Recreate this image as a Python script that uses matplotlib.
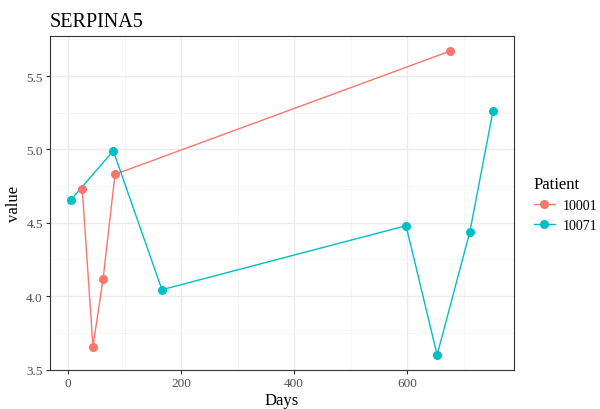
import matplotlib
matplotlib.use("Agg")
import matplotlib.pyplot as plt
from matplotlib.lines import Line2D

plt.rcParams['font.family'] = ['Liberation Serif', 'DejaVu Serif']

# 데이터
days_10001 = [25, 44, 62, 83, 676]
value_10001 = [4.73, 3.656, 4.12, 4.83, 5.67]
days_10071 = [5, 80, 166, 598, 653, 711, 752]
value_10071 = [4.657, 4.99, 4.044, 4.48, 3.60, 4.44, 5.265]
patients = ["10001", "10071"]
colors = ["#F8766D", "#00BFC4"]

fig = plt.figure(figsize=(6, 4.1), dpi=100)
ax = fig.add_axes([0.083, 0.095, 0.774, 0.815])

for x, y, c in [(days_10001, value_10001, colors[0]), (days_10071, value_10071, colors[1])]:
    ax.plot(x, y, '-', color=c, lw=1.0, zorder=3)
    ax.plot(x, y, 'o', color=c, ms=6.5, mec='none', zorder=4)

ax.set_xlim(-32.4, 789.4)
ax.set_ylim(3.4965, 5.7735)
ax.set_xticks([0, 200, 400, 600])
ax.set_yticks([3.5, 4.0, 4.5, 5.0, 5.5])
ax.set_yticklabels(["3.5", "4.0", "4.5", "5.0", "5.5"])
ax.set_xticks([100, 300, 500, 700], minor=True)
ax.set_yticks([3.75, 4.25, 4.75, 5.25, 5.75], minor=True)
ax.grid(which='major', color='#EBEBEB', lw=1.0, zorder=0)
ax.grid(which='minor', color='#F4F4F4', lw=0.6, zorder=0)
ax.tick_params(which='minor', length=0)
ax.tick_params(which='major', length=3, color='#333333', labelsize=9.5, labelcolor='#4D4D4D', pad=2)
for s in ax.spines.values():
    s.set_color('#333333')
    s.set_linewidth(0.8)
ax.set_axisbelow(True)

ax.set_xlabel("Days", fontsize=12, labelpad=2)
ax.set_ylabel("value", fontsize=12, labelpad=3)
ax.set_title("SERPINA5", fontsize=14.5, loc='left', pad=7)

handles = [Line2D([0], [0], color=c, marker='o', ms=6.5, mec='none', lw=1.0) for c in colors]
leg = fig.legend(handles, patients, title="Patient", loc='center left',
                 bbox_to_anchor=(0.89, 0.5), frameon=False, fontsize=10,
                 title_fontsize=12, handlelength=1.5, handletextpad=0.6,
                 labelspacing=0.5, borderpad=0, borderaxespad=0)
leg._legend_box.align = "left"

fig.savefig("out.png", dpi=100)
